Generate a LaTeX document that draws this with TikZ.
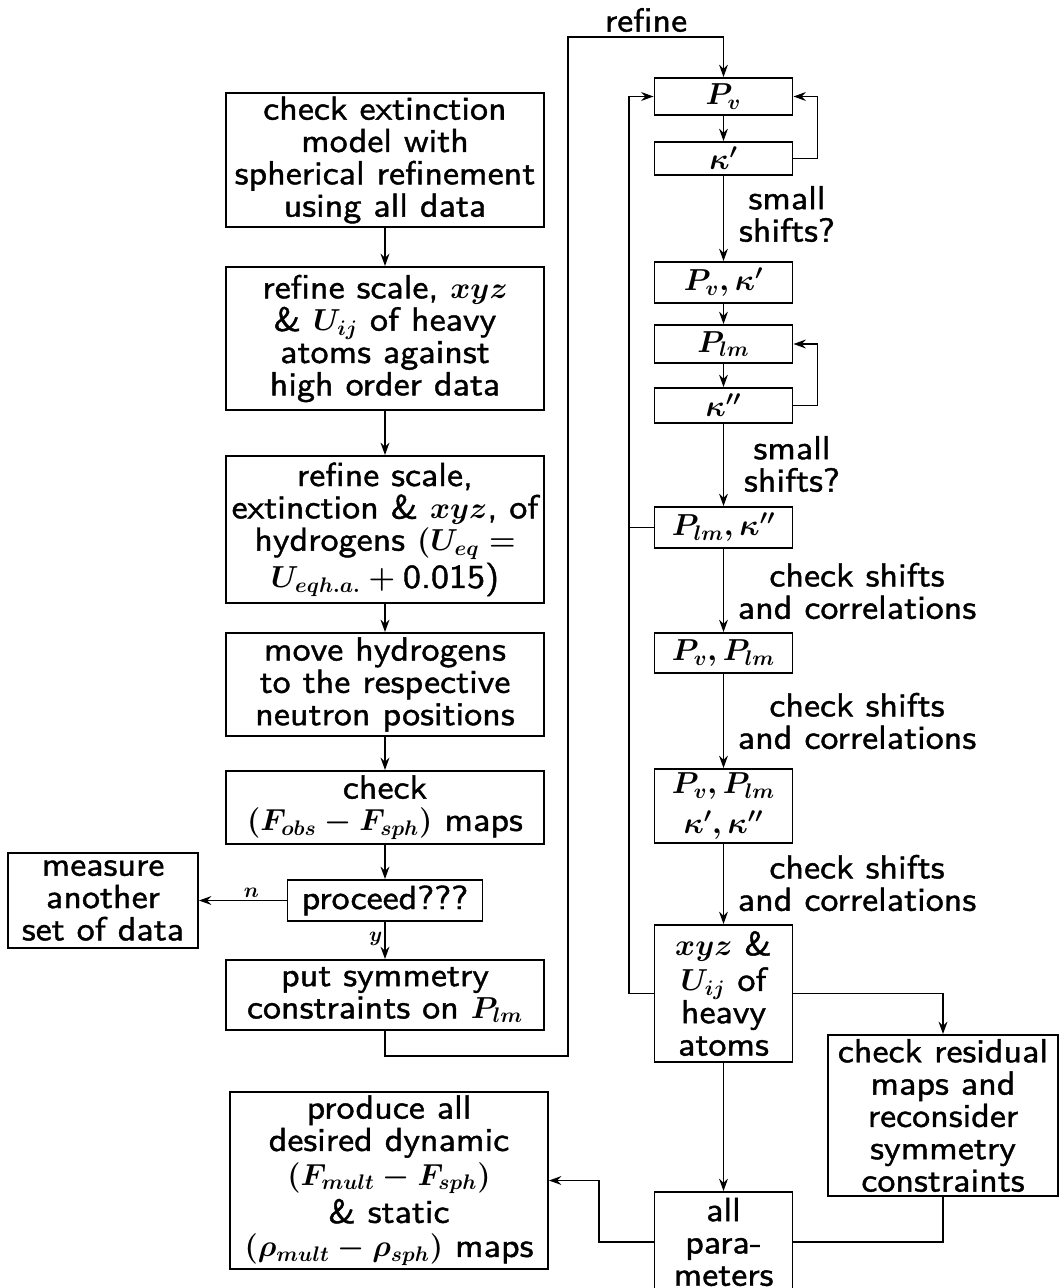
\documentclass[tikz,border=0pt]{standalone}
\usepackage{fontspec}
\usetikzlibrary{arrows.meta}
% slightly heavier and wider sans for the flow-chart labels
\newfontfamily\chartsans{lmsans10-regular.otf}[FakeBold=1.2, FakeStretch=1.08]
% formulas set a little smaller than the surrounding words
\newcommand{\mth}[1]{{\fontsize{17}{18.4}\selectfont$#1$}}
\tikzset{
  every picture/.style={x=0.02cm, y=-0.02cm},
  txt/.style={font=\fontsize{19}{18.4}\selectfont\chartsans\boldmath,
              align=center, inner sep=0pt},
  box/.style 2 args={txt, draw, line width=1.1pt,
              minimum width={#1*0.02cm}, minimum height={#2*0.02cm}},
  wire/.style={line width=1.1pt, line join=miter},
  conn/.style={wire, -{Stealth[length=7pt,width=5pt]}},
  tag/.style={font=\fontsize{13}{14}\selectfont\boldmath, inner sep=1pt}
}
\begin{document}
\begin{tikzpicture}
\fill[white] (0,0) rectangle (1061,1288);
\useasboundingbox (0,0) rectangle (1061,1288);

% left column: preparation steps
\node[box={318}{134}] (b1) at (385,160)
  {check extinction\\model with\\spherical refinement\\using all data};
\node[box={318}{143}] (b2) at (385,338.5)
  {refine scale, \mth{xyz}\\\& \mth{U_{ij}} of heavy\\atoms against\\high order data};
\node[box={318}{147}] (b3) at (385,529.5)
  {refine scale,\\extinction \& \mth{xyz}, of\\hydrogens \mth{(U_{eq}=}\\[1pt]\mth{U_{eqh.a.}+{}}0.015)};
\node[box={318}{103}] (b4) at (385,684.5)
  {move hydrogens\\to the respective\\neutron positions};
\node[box={318}{73}] (b5) at (385,807.5)
  {check\\\mth{(F_{obs}-F_{sph})} maps};
\node[box={195}{41}] (pr) at (385,900.5) {proceed???};
\node[box={190}{95}] (me) at (103,900.5) {measure\\another\\set of data};
\node[box={318}{70}] (b8) at (385,995)
  {put symmetry\\constraints on \mth{P_{lm}}};
\node[box={318}{177}] (b9) at (389,1180.5)
  {produce all\\desired dynamic\\[1pt]\mth{(F_{mult}-F_{sph})}\\[2pt]\& static\\[1pt]\mth{(\rho_{mult}-\rho_{sph})} maps};

% right column: multipole refinement
\node[box={138}{37}] (r1) at (723.5,96.5) {\mth{P_v}};
\node[box={138}{33}] (r2) at (723.5,158.5) {\mth{\kappa'}};
\node[box={138}{41}] (r3) at (723.5,282.5) {\mth{P_v,\kappa'}};
\node[box={138}{38}] (r4) at (723.5,344) {\mth{P_{lm}}};
\node[box={138}{35}] (r5) at (723.5,405.5) {\mth{\kappa''}};
\node[box={138}{41}] (r6) at (723.5,527.5) {\mth{P_{lm},\kappa''}};
\node[box={138}{40}] (r7) at (723.5,653) {\mth{P_v,P_{lm}}};
\node[box={138}{74}] (r8) at (723.5,806) {\mth{P_v,P_{lm}}\\[4pt]\mth{\kappa',\kappa''}};
\node[box={138}{137}] (r9) at (723.5,993.5) {\mth{xyz} \&\\[2pt]\mth{U_{ij}} of\\heavy\\atoms};
\node[box={230}{161}] (r10) at (943,1115.5)
  {check residual\\maps and\\reconsider\\symmetry\\constraints};
\node[box={138}{100}] (r11) at (723.5,1242) {all\\para-\\meters};

% step labels
\node[txt] (lrefine) at (646,20) {refine};
\node[txt] (ls1) at (787,214) {small\\shifts?};
\node[txt] (ls2) at (792,464) {small\\shifts?};
\node[txt] (lc1) at (857,591) {check shifts\\and correlations};
\node[txt] (lc2) at (857,721) {check shifts\\and correlations};
\node[txt] (lc3) at (857,883) {check shifts\\and correlations};

% left column flow
\draw[conn] (b1) -- (b2);
\draw[conn] (b2) -- (b3);
\draw[conn] (b3) -- (b4);
\draw[conn] (b4) -- (b5);
\draw[conn] (b5) -- (pr);
\draw[conn] (pr.west) -- (me.east) node[tag, above, pos=0.4] (ln) {$n$};
\draw[conn] (pr.south) -- (b8.north) node[tag, left, pos=0.45] (ly) {$y$};

% hand-over to the multipole refinement
\coordinate (outer) at (568,37);
\draw[conn] (b8.south) -- ++(0,25) -| (outer) -| (r1.north);

% right column flow
\draw[conn] (r1) -- (r2);
\draw[conn] (r2.east) -- ++(24,0) |- (r1.east);
\draw[conn] (r2) -- (r3);
\draw[conn] (r3) -- (r4);
\draw[conn] (r4) -- (r5);
\draw[conn] (r5.east) -- ++(24,0) |- (r4.east);
\draw[conn] (r5) -- (r6);
\draw[conn] (r6) -- (r7);
\draw[conn] (r7) -- (r8);
\draw[conn] (r8) -- (r9);

% feedback to the first step
\coordinate (back) at (629,0);
\draw[conn] (r9.west) -- (r9.west -| back) |- (r1.west);
\draw[wire] (r6.west) -- (r6.west -| back);

% final stage
\draw[conn] (r9.south) -- (r11.north);
\draw[conn] (r9.east) -| (r10.north);
\draw[wire] (r10.south) |- (r11.east);
\draw[conn] (r11.west) -- ++(-55,0) |- (b9.east);
\end{tikzpicture}
\end{document}
